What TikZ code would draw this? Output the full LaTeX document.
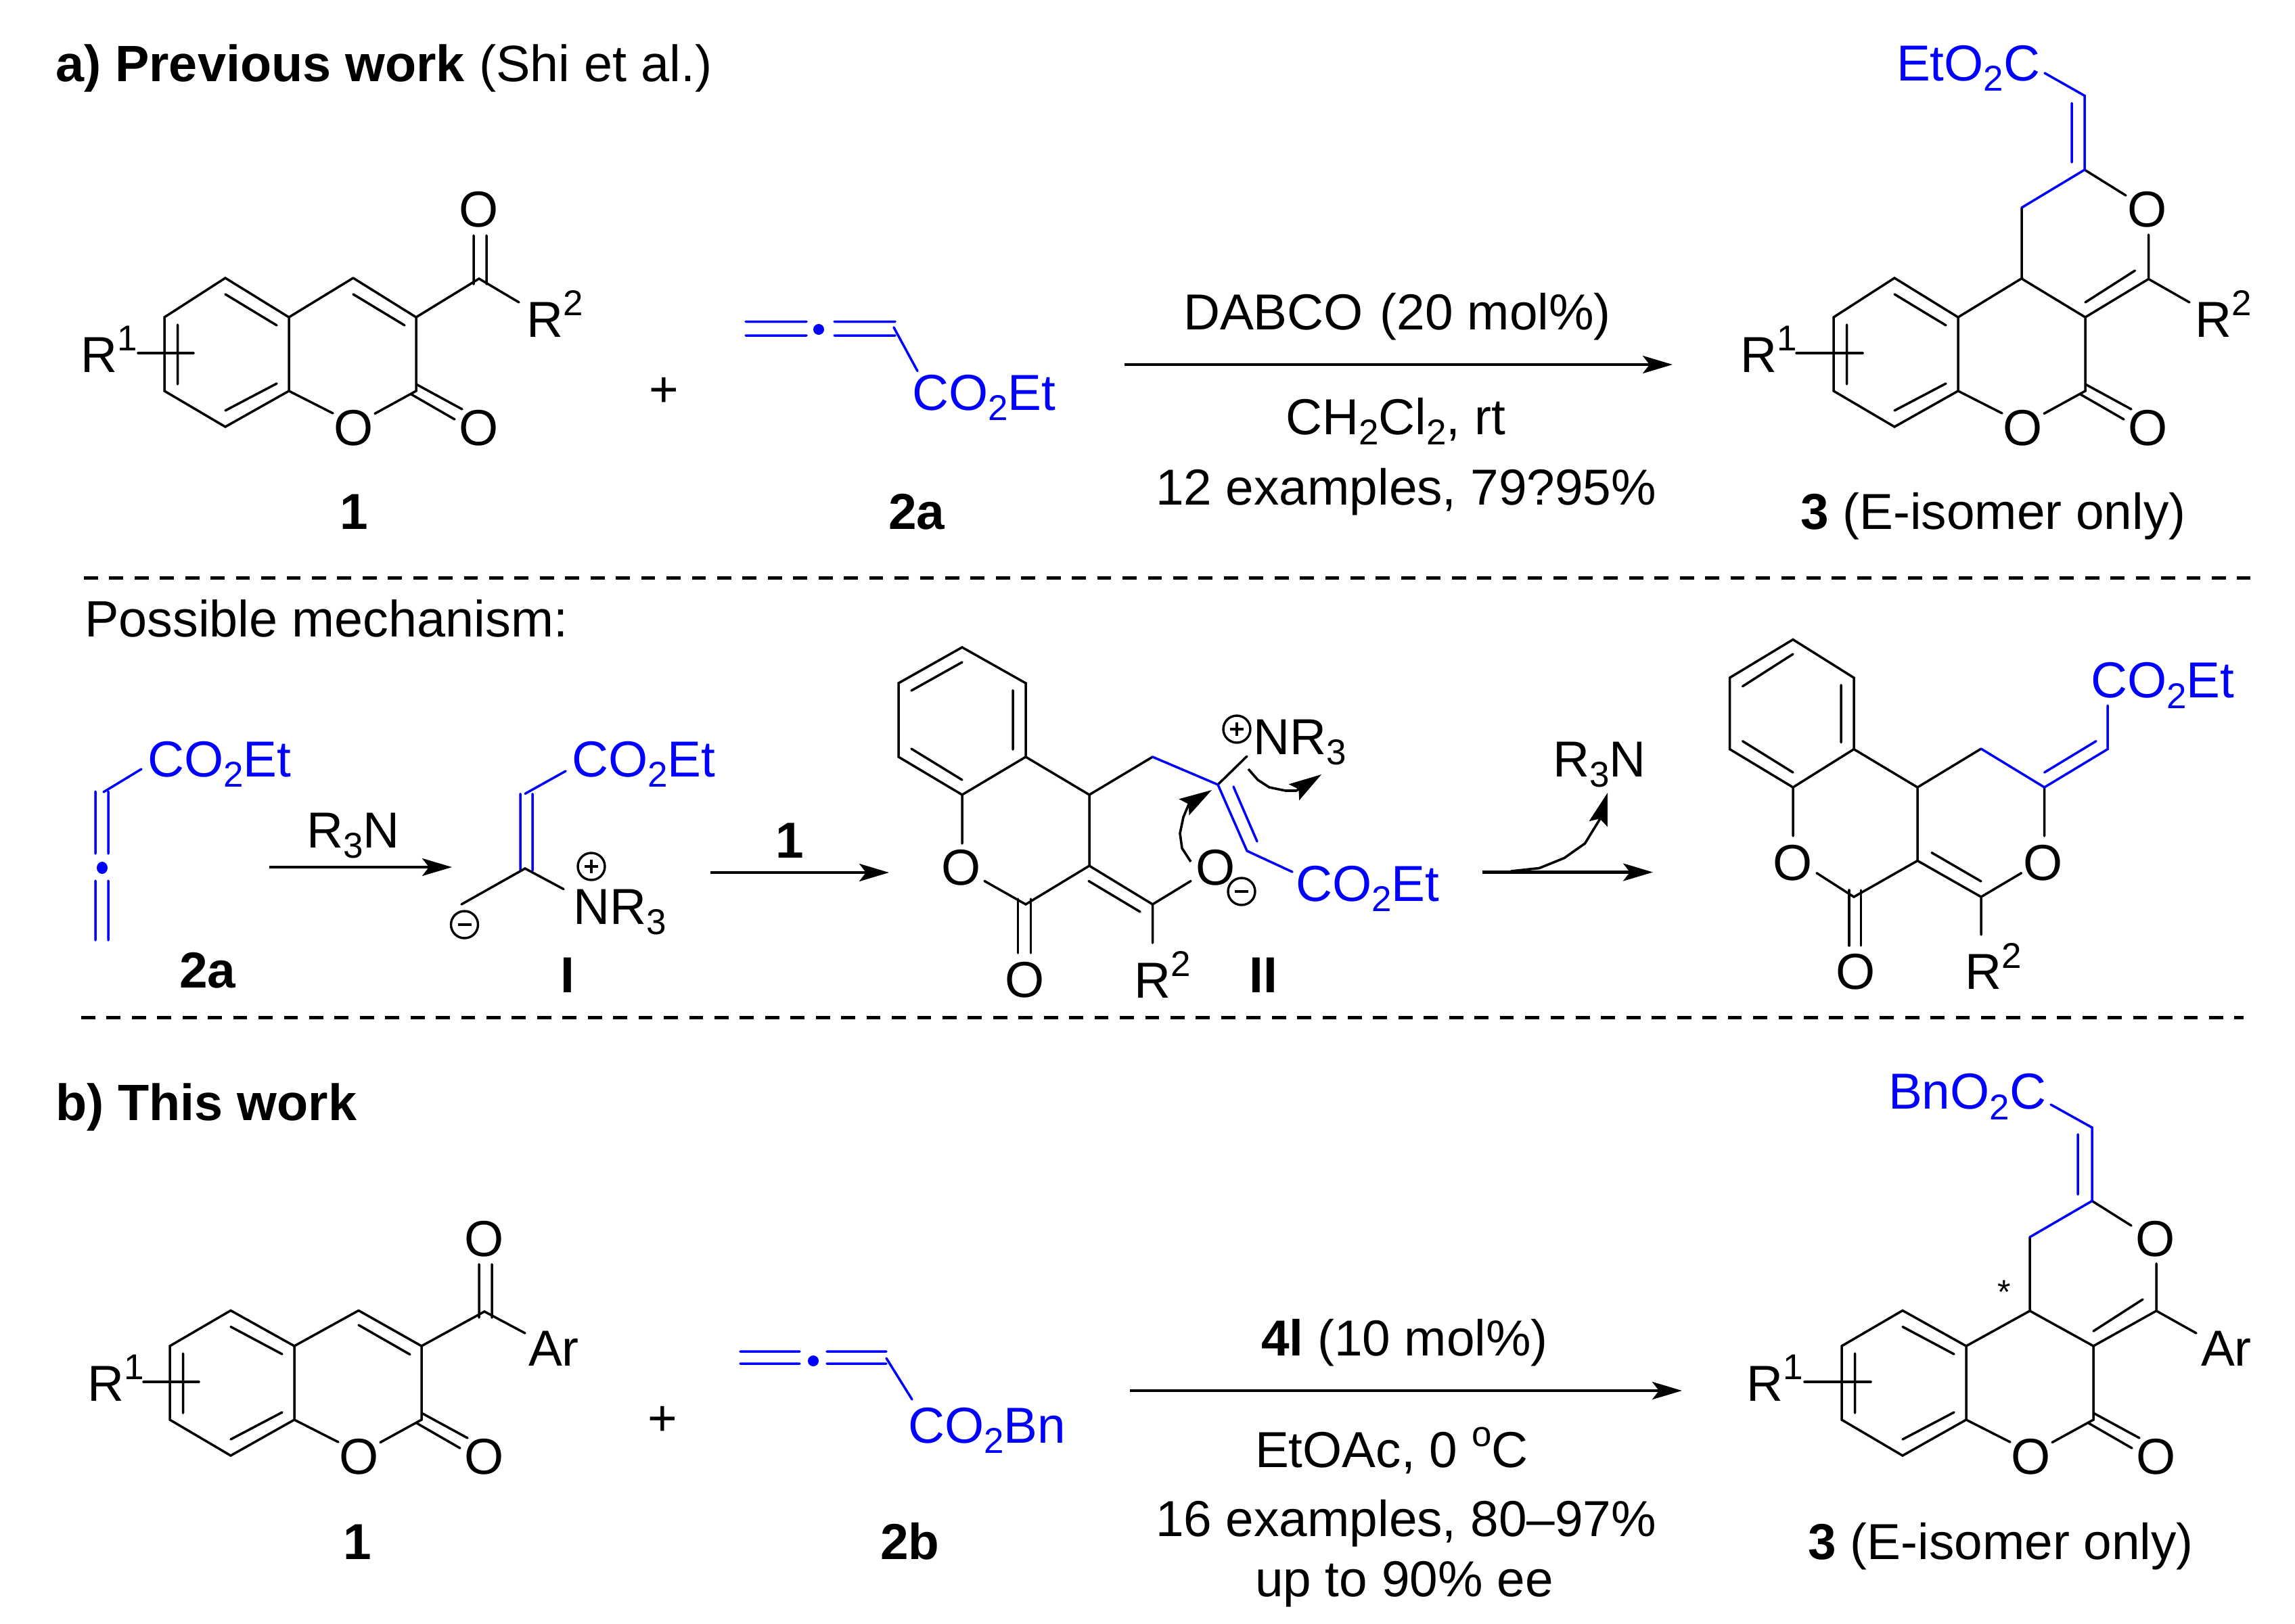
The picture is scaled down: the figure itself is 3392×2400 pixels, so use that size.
\documentclass[tikz,border=0pt]{standalone}
\usepackage{fontspec}
\setmainfont{Liberation Sans}
\usetikzlibrary{arrows.meta}
\definecolor{chemblue}{RGB}{0,0,255}
\newcommand{\chemsub}[1]{\raisebox{-0.21em}{\fontsize{26.5}{26.5}\selectfont #1}}
\newcommand{\chemsup}[1]{\raisebox{0.42em}{\fontsize{26.5}{26.5}\selectfont #1}}
\newcommand{\mainfs}{\fontsize{37.4}{40}\selectfont}
\newcommand{\headfs}{\fontsize{37.8}{40}\selectfont}
\tikzset{
  bond/.style={line width=1.75pt,line cap=round,line join=miter,black},
  bbond/.style={bond,chemblue},
  rxn/.style={line width=2.2pt,-{Stealth[length=22pt,width=13pt,inset=5pt]}},
  curved/.style={line width=1.8pt,line join=round,-{Stealth[length=24pt,width=14pt,inset=4pt]}},
  lab/.style={inner sep=0pt,outer sep=0pt,anchor=base west,font=\mainfs,xshift=-1.5pt},
  head/.style={lab,font=\headfs},
  ctr/.style={inner sep=0pt,outer sep=0pt,anchor=center,font=\mainfs},
  cbase/.style={inner sep=0pt,outer sep=0pt,anchor=base,font=\mainfs},
  sep/.style={line width=2.5pt,dash pattern=on 10.4pt off 8.32pt},
  charge/.style={line width=1.7pt},
}
% #1 prefix, #2 shift, #3 x of R1 label, #4 left end of the cross, #5 y of the upper vertices
\newcommand{\coumcore}[5]{%
 \begin{scope}[shift={(#2)}]
  \draw[bond] (333,#5)--(243,469)--(243,578)--(333,631)--(427,578)--(427,469)--cycle;
  \draw[bond] (333,#5+24)--(409,481) (262.5,480)--(262.5,568) (333,607)--(409,567);
  \draw[bond] (#4,522)--(286,522);
  \node[lab] (#1r) at (#3,550) {R\chemsup{1}};
  \node[ctr] (#1o) at (523,632.5) {O};
  \node[ctr] (#1x) at (708,632.5) {O};
  \draw[bond] (427,578)--(492,611) (554,611.5)--(615,578)--(615,469) (615,568)--(683,605) (607,582.5)--(672,620);
  \draw[bond] (427,469)--(522,#5);
 \end{scope}}
\newcommand{\chargeplus}[2]{\draw[charge] (#2) circle[radius=20]; \draw[charge,shift={(#2)}] (-10,0)--(10,0) (0,-10)--(0,10);}
\newcommand{\chargeminus}[2]{\draw[charge] (#2) circle[radius=20]; \draw[charge,shift={(#2)}] (-10,0)--(10,0);}
\begin{document}
\begin{tikzpicture}[x=0.5pt,y=-0.5pt]
\useasboundingbox (0,0) rectangle (3392,2400);
\fill[white] (0,0) rectangle (3392,2400);
% headings
\node[head] (heada) at (85,120) {\textbf{a) Previous work} (Shi et al.)};
\node[head] (mech) at (128,941) {Possible mechanism:};
\node[head] (headb) at (85,1656) {\textbf{b) This work}};
% separators
\coordinate (s1a) at (124,854.5); \coordinate (s1b) at (3326,854.5);
\coordinate (s2a) at (120,1504); \coordinate (s2b) at (3316,1504);
\draw[sep] (s1a)--(s1b);
\draw[sep] (s2a)--(s2b);
% ---- top reaction
\coumcore{ca}{0,0}{122}{204}{411}
\draw[bond] (522,435)--(598,481) (522,411)--(615,469) (615,469)--(708,412)--(767,447) (700,348)--(700,420) (719,348)--(719,420);
\node[ctr] (caO) at (708,310) {O};
\node[lab] (caR) at (781,498) {R\chemsup{2}};
\node[ctr] (plusa) at (981,580) {+};
\draw[bbond] (1102,475.5)--(1192,475.5) (1102,496)--(1192,496) (1233,475.5)--(1323,475.5) (1233,496)--(1323,496) (1321,484)--(1356,548.5);
\fill[chemblue] (1210,487) ellipse[x radius=8,y radius=8];
\node[lab,text=chemblue] (ea) at (1351,606) {CO\chemsub{2}Et};
\node[cbase] (l1a) at (523,782) {\textbf{1}};
\node[cbase] (l2a) at (1355,782) {\textbf{2a}};
\coordinate (ra1) at (1662,539); \coordinate (ra2) at (2472,539);
\draw[rxn] (ra1)--(ra2);
\node[lab] (t1) at (1752,487) {DABCO\,\,(20 mol\%)};
\node[lab] (t2) at (1903,642) {CH\chemsub{2}Cl\chemsub{2}, rt};
\node[lab] (t3) at (1711,746) {12 examples, 79?95\%};
\coumcore{pa}{2467,0}{108}{188}{411}
\draw[bond] (2988,412)--(3082,469)--(3175.5,412.5)--(3175.5,347) (2988,412)--(2988,307) (3082,447)--(3155.5,400) (3175.5,412.5)--(3236,447);
\draw[bond] (3081,251)--(3142,289);
\draw[bbond] (2988,307)--(3081,251)--(3081,141.5)--(3022,108) (3062,152.5)--(3062,240);
\node[ctr] (paO) at (3174,310) {O};
\node[lab] (paR) at (3247,498) {R\chemsup{2}};
\node[lab,text=chemblue] (pae) at (2806,119) {EtO\chemsub{2}C};
\node[lab] (l3a) at (2664,782) {\textbf{3} (E-isomer only)};
% ---- mechanism: 2a
\draw[bbond] (141,1170)--(141,1262) (160,1170)--(160,1262) (141,1302)--(141,1390) (160,1302)--(160,1390) (153,1171)--(209,1137);
\fill[chemblue] (151,1283) ellipse[x radius=8,y radius=9];
\node[lab,text=chemblue] (m1) at (221,1148) {CO\chemsub{2}Et};
\node[cbase] (l2b) at (307,1460) {\textbf{2a}};
\coordinate (rm1) at (398,1282); \coordinate (rm2) at (668,1282);
\draw[rxn,line width=1.8pt] (rm1)--(rm2);
\node[lab] (r3n) at (456,1253) {R\chemsub{3}N};
% I
\draw[bbond] (769,1173.5)--(769,1287) (787,1173.5)--(787,1287) (776,1173.5)--(836,1140);
\draw[bond] (682,1337)--(776,1284)--(833,1314.5);
\node[lab,text=chemblue] (m2) at (848,1148) {CO\chemsub{2}Et};
\node[lab] (nr) at (850,1366) {NR\chemsub{3}};
\chargeplus{p1}{874,1281}
\chargeminus{p2}{686.5,1367}
\node[cbase] (lI) at (839,1467) {\textbf{I}};
\coordinate (rm3) at (1050,1290); \coordinate (rm4) at (1314,1290);
\draw[rxn] (rm3)--(rm4);
\node[cbase] (r1) at (1167,1268) {\textbf{1}};
% II
\draw[bond] (1422,957)--(1328,1010)--(1328,1119)--(1422,1175)--(1516,1119)--(1516,1010)--cycle;
\draw[bond] (1347,1021)--(1422,979) (1497,1020.6)--(1497,1108) (1347,1107)--(1422,1153);
\draw[bond] (1422,1175)--(1422,1247) (1455,1302.5)--(1516,1337)--(1610,1280)--(1610,1175)--(1516,1119) (1610,1175)--(1703.5,1119);
\draw[bond] (1504.5,1329)--(1504.5,1409) (1523.6,1329)--(1523.6,1409);
\draw[bond] (1610,1280)--(1703.5,1337)--(1760,1302.5) (1609,1302.5)--(1685,1348) (1703.5,1337)--(1703.5,1394);
\draw[bond] (1800,1160)--(1843,1118);
\draw[bbond] (1703.5,1119)--(1800,1160)--(1843,1258)--(1910,1289) (1823,1163)--(1858,1244);
\node[ctr] (iiO1) at (1421,1283) {O};
\node[ctr] (iiO2) at (1515,1449) {O};
\node[ctr] (iiO3) at (1797,1283) {O};
\node[lab] (iiR) at (1679,1475) {R\chemsup{2}};
\node[lab] (iiN) at (1855,1115) {NR\chemsub{3}};
\node[lab,text=chemblue] (iiE) at (1918,1332) {CO\chemsub{2}Et};
\node[cbase] (lII) at (1867,1467) {\textbf{II}};
\chargeplus{p3}{1828,1078}
\chargeminus{p4}{1835,1318}
\coordinate (ca0) at (1760,1274); \coordinate (ca1) at (1791,1168);
\draw[curved] (ca0)--(1747,1254)--(1744,1232)--(1749,1208)--(1757,1189)--(ca1);
\coordinate (cb0) at (1845,1137); \coordinate (cb1) at (1953,1145);
\draw[curved] (cb0)--(1859,1153)--(1876,1164)--(1900,1169)--(1916,1169)--(cb1);
\coordinate (rm5) at (2191,1289.5); \coordinate (rm6) at (2443,1289.5);
\draw[rxn] (rm5)--(rm6);
\node[lab] (r3n2) at (2298,1148) {R\chemsub{3}N};
\coordinate (cc0) at (2233,1288); \coordinate (cc1) at (2376,1172);
\draw[curved] (cc0)--(2275,1283.5)--(2312,1268.5)--(2342.5,1247)--(2364,1212)--(cc1);
% final
\draw[bond] (2650,945.5)--(2556.5,1002)--(2556.5,1107.6)--(2650,1164)--(2740,1107.6)--(2740,1002)--cycle;
\draw[bond] (2575.5,1014.7)--(2650,967) (2721,1012.7)--(2721,1097.7) (2575.5,1095.7)--(2650,1142);
\draw[bond] (2650,1164)--(2650,1236) (2685,1290.7)--(2740,1326)--(2834,1272.5)--(2834,1164)--(2740,1107.6) (2834,1164)--(2928,1107);
\draw[bond] (2733,1316)--(2733,1398) (2750.6,1316)--(2750.6,1398);
\draw[bond] (2834,1272.5)--(2928,1326)--(2987.6,1290.7) (2855,1260.6)--(2928,1303) (2928,1326)--(2928,1382) (3021.6,1164)--(3021.6,1236);
\draw[bbond] (2928,1107)--(3021.6,1164)--(3115,1107.6)--(3115,1043) (3021.6,1142)--(3098,1095.7);
\node[ctr] (fO1) at (2650,1275.6) {O};
\node[ctr] (fO2) at (2743,1437) {O};
\node[ctr] (fO3) at (3020,1275.6) {O};
\node[lab] (fR) at (2907,1462.7) {R\chemsup{2}};
\node[lab,text=chemblue] (fE) at (3093,1031.7) {CO\chemsub{2}Et};
% ---- bottom reaction
\coumcore{cb}{8,1521}{124}{204}{416.5}
\draw[bond,shift={(8,1521)}] (522,438)--(598,481.5) (522,416.5)--(615,469) (615,469)--(708,418)--(768,450) (700,348)--(700,427) (719,348)--(719,427);
\node[ctr] (cbO) at (716,1832) {O};
\node[lab] (cbA) at (784,2019) {Ar};
\node[ctr] (plusb) at (979,2101) {+};
\draw[bbond] (1094,1998)--(1182,1998) (1094,2016)--(1182,2016) (1222,1998)--(1310,1998) (1222,2016)--(1310,2016) (1310,2008)--(1348,2069);
\fill[chemblue] (1202,2012) ellipse[x radius=8,y radius=8];
\node[lab,text=chemblue] (eb) at (1345,2133) {CO\chemsub{2}Bn};
\node[cbase] (l1b) at (528,2305) {\textbf{1}};
\node[cbase] (l2c) at (1345,2305) {\textbf{2b}};
\coordinate (rb1) at (1670,2056); \coordinate (rb2) at (2486,2056);
\draw[rxn] (rb1)--(rb2);
\node[lab] (b1) at (1867,2004) {\textbf{4l} (10 mol\%)};
\node[lab] (b2) at (1858,2169.5) {EtOAc, 0 \chemsup{o}C};
\node[lab] (b3) at (1711,2271) {16 examples, 80--97\%};
\node[lab] (b4) at (1858,2360) {up to 90\% ee};
\coumcore{pb}{2479,1521}{105}{188}{416.5}
\draw[bond] (3000,1938)--(3094,1990)--(3187,1938)--(3187,1868) (3000,1938)--(3000,1829) (3094,1968)--(3167,1921) (3187,1938)--(3246,1971);
\draw[bond] (3092,1775.5)--(3150,1812);
\draw[bbond] (3000,1829)--(3092,1775.5)--(3092,1667)--(3031,1633) (3071,1677)--(3071,1766);
\node[ctr] (pbO) at (3185.5,1832) {O};
\node[lab] (pbA) at (3256,2019) {Ar};
\node[lab,text=chemblue] (pbe) at (2794,1639.5) {BnO\chemsub{2}C};
\node[inner sep=0pt,font=\fontsize{25}{25}\selectfont] (st) at (2962,1910) {*};
\node[lab] (l3b) at (2675.5,2305) {\textbf{3} (E-isomer only)};
\end{tikzpicture}
\end{document}
